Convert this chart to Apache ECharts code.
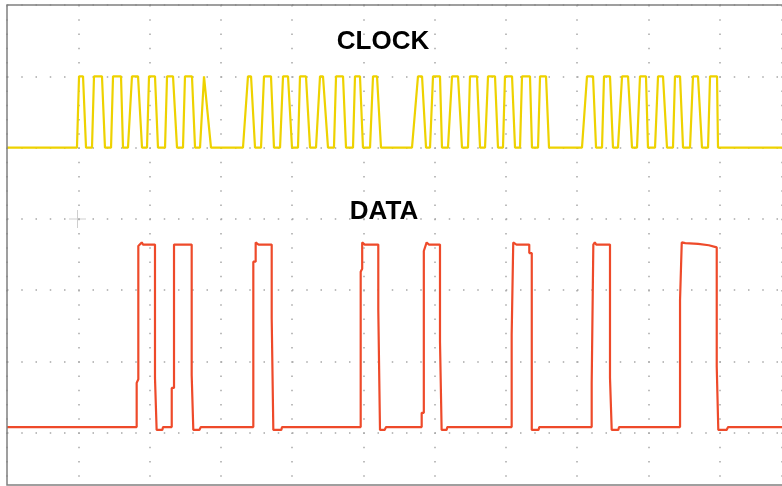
<!DOCTYPE html>
<html>
<head>
<meta charset="utf-8">
<script src="https://cdn.jsdelivr.net/npm/echarts@6/dist/echarts.min.js"></script>
<style>
    html, body { margin: 0; padding: 0; background: #fff; }
    #main { width: 782px; height: 486px; }
</style>
</head>
<body>
<div id="main"></div>
<script>
    // time in us (10 us / div), level in divisions from the bottom grid line
    var clockLow = 5.0;
    var clockHigh = 6.0;
    // each pulse: [rise start, rise end, fall start, fall end]
    var clockPulses = [
        [9.82, 10.11, 10.67, 11.09], [11.93, 12.21, 13.33, 13.75], [14.60, 14.88, 16.00, 16.28], [16.98, 17.54, 18.39, 18.95],
        [19.65, 19.93, 20.77, 21.19], [22.18, 22.46, 23.30, 23.86], [24.70, 24.98, 25.96, 26.39], [27.09, 27.65, 27.93, 28.63],
        [33.12, 33.82, 34.25, 34.81], [35.65, 36.07, 37.05, 37.47], [38.32, 38.74, 39.44, 40.00], [40.84, 41.12, 41.96, 42.53],
        [43.37, 43.93, 44.35, 45.05], [45.89, 46.18, 47.16, 47.58], [48.56, 48.84, 49.54, 49.96], [50.95, 51.37, 51.93, 52.49],
        [56.84, 57.68, 58.25, 58.81], [59.37, 59.79, 60.77, 61.05], [61.89, 62.46, 63.30, 63.86], [64.70, 64.98, 65.96, 66.39],
        [67.09, 67.51, 68.49, 68.91], [69.61, 69.89, 70.88, 71.30], [72.00, 72.28, 73.40, 73.68], [74.53, 74.81, 75.65, 76.07],
        [80.70, 81.40, 82.25, 82.67], [83.51, 83.79, 84.63, 85.05], [85.75, 86.32, 87.16, 87.72], [88.42, 88.84, 89.68, 89.96],
        [90.95, 91.37, 92.07, 92.63], [93.47, 93.75, 94.46, 94.88], [95.86, 96.28, 96.98, 97.54], [98.39, 98.67, 99.65, 99.79]
    ];

    var dataPoints = [
        [0, 1.08], [18.20, 1.08], [18.20, 1.70], [18.43, 1.75], [18.43, 3.62], [18.91, 3.67], [19.10, 3.64], [20.77, 3.64],
        [20.77, 1.77], [21.00, 1.77], [21.00, 1.04], [21.80, 1.04], [21.90, 1.08], [23.12, 1.08], [23.12, 1.63], [23.44, 1.63],
        [23.44, 3.64], [25.92, 3.64], [25.92, 1.81], [26.15, 1.81], [26.15, 1.04], [27.00, 1.04], [27.20, 1.08],
        [34.57, 1.08], [34.57, 3.40], [34.90, 3.40], [34.90, 3.67], [35.30, 3.64], [37.15, 3.64], [37.15, 2.61], [37.38, 2.61],
        [37.38, 1.04], [38.50, 1.04], [38.60, 1.08],
        [49.64, 1.08], [49.64, 3.26], [49.85, 3.30], [49.85, 3.67], [50.20, 3.64], [52.11, 3.64], [52.11, 2.73], [52.35, 2.73],
        [52.35, 1.04], [53.00, 1.04], [53.20, 1.08],
        [58.20, 1.08], [58.20, 1.28], [58.50, 1.28], [58.50, 3.55], [58.90, 3.67], [59.20, 3.64], [60.77, 3.64], [60.77, 2.28],
        [61.00, 2.28], [61.00, 1.04], [61.70, 1.04], [61.80, 1.08],
        [70.83, 1.08], [70.83, 2.37], [71.05, 2.37], [71.05, 3.67], [71.50, 3.64], [73.30, 3.64], [73.30, 3.52], [73.65, 3.52],
        [73.65, 1.04], [74.60, 1.04], [74.70, 1.08],
        [82.06, 1.08], [82.06, 1.70], [82.29, 1.70], [82.29, 3.64], [82.50, 3.67], [82.70, 3.64], [84.63, 3.64], [84.63, 1.77],
        [84.87, 1.77], [84.87, 1.04], [85.80, 1.04], [85.90, 1.08],
        [94.46, 1.08], [94.46, 2.86], [94.70, 2.86], [94.70, 3.67], [95.20, 3.66], [97.00, 3.65], [98.50, 3.63], [99.61, 3.60],
        [99.61, 1.93], [99.83, 1.93], [99.83, 1.04], [101.00, 1.04], [101.20, 1.08], [108.77, 1.08]
    ];

    var clockPoints = [[0, clockLow]];
    clockPulses.forEach(function (p) {
        clockPoints.push([p[0], clockLow], [p[1], clockHigh], [p[2], clockHigh], [p[3], clockLow]);
    });
    clockPoints.push([108.77, clockLow]);

    var chart = echarts.init(document.getElementById('main'));
    var dots = {
        show: true,
        lineStyle: { color: '#a8a8a8', width: 1.5, type: [1.5, 12.75] }
    };
    chart.setOption({
        animation: false,
        backgroundColor: '#fff',
        grid: { left: 7, top: 5, width: 775, height: 499.1, outerBoundsMode: 'none', containLabel: false },
        xAxis: {
            type: 'value', min: 0, max: 108.77, interval: 10,
            axisLine: { show: false }, axisTick: { show: false }, axisLabel: { show: false },
            splitLine: dots
        },
        yAxis: {
            type: 'value', min: 0, max: 7, interval: 1,
            axisLine: { show: false }, axisTick: { show: false }, axisLabel: { show: false },
            splitLine: dots
        },
        graphic: [
            {
                type: 'rect', silent: true, z: 10,
                shape: { x: 7, y: 5, width: 800, height: 480 },
                style: { fill: 'none', stroke: '#808080', lineWidth: 1.5 }
            },
            {
                type: 'line', silent: true, shape: { x1: 69, y1: 219, x2: 86, y2: 219 },
                style: { stroke: '#cfcfcf', lineWidth: 1 }
            },
            {
                type: 'line', silent: true, shape: { x1: 77.5, y1: 210, x2: 77.5, y2: 228 },
                style: { stroke: '#cfcfcf', lineWidth: 1 }
            },
            {
                type: 'text', x: 383, y: 42, z: 20,
                style: {
                    text: 'CLOCK', fill: '#000', font: 'bold 26px "Liberation Sans", Arial',
                    textAlign: 'center', textVerticalAlign: 'middle'
                }
            },
            {
                type: 'text', x: 384, y: 212, z: 20,
                style: {
                    text: 'DATA', fill: '#000', font: 'bold 26px "Liberation Sans", Arial',
                    textAlign: 'center', textVerticalAlign: 'middle'
                }
            }
        ],
        series: [
            {
                name: 'CLOCK', type: 'line', data: clockPoints, showSymbol: false,
                lineStyle: { color: '#eed200', width: 2.2 }
            },
            {
                name: 'DATA', type: 'line', data: dataPoints, showSymbol: false,
                lineStyle: { color: '#ee4a2a', width: 2.2 }
            }
        ]
    });
</script>
</body>
</html>
